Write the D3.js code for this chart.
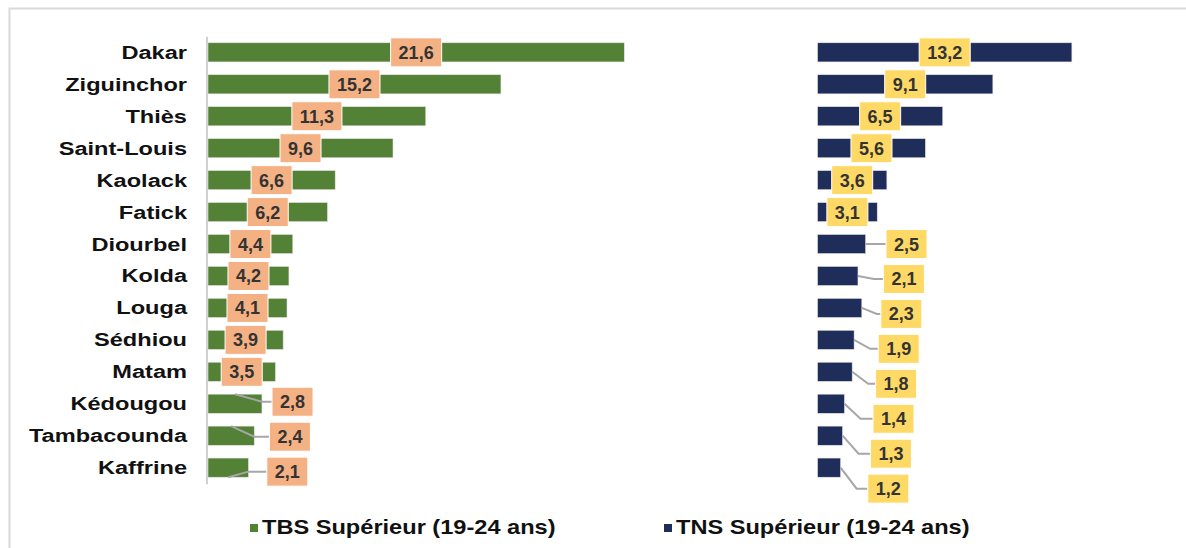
<!DOCTYPE html>
<html>
<head>
<meta charset="utf-8">
<script src="https://cdn.jsdelivr.net/npm/d3@7"></script>
<style>
  body { margin: 0; background: #fff; }
  svg { display: block; font-family: "Liberation Sans", Arial, sans-serif; }
</style>
</head>
<body>
<div class="wrapper"><svg width="1186" height="548"></svg></div>
<script>
var regions = ["Dakar", "Ziguinchor", "Thiès", "Saint-Louis", "Kaolack", "Fatick", "Diourbel",
  "Kolda", "Louga", "Sédhiou", "Matam", "Kédougou", "Tambacounda", "Kaffrine"];
var tbs = [21.6, 15.2, 11.3, 9.6, 6.6, 6.2, 4.4, 4.2, 4.1, 3.9, 3.5, 2.8, 2.4, 2.1];
var tns = [13.2, 9.1, 6.5, 5.6, 3.6, 3.1, 2.5, 2.1, 2.3, 1.9, 1.8, 1.4, 1.3, 1.2];
var seriesNames = ["TBS Supérieur (19-24 ans)", "TNS Supérieur (19-24 ans)"];

var svg = d3.select('.wrapper').select('svg');
var fr = d3.formatLocale({decimal: ",", thousands: " ", grouping: [3], currency: ["", ""]});
var fmt = fr.format(".1f");

/* frame */
svg.append('path').attr('d', 'M9.5,548V8.5H1186')
  .attr('fill', 'none').attr('stroke', '#d9d9d9').attr('stroke-width', 2);

var y = d3.scaleBand().domain(regions).range([30, 490]).paddingInner(0.4).paddingOuter(0.4);
var xL = d3.scaleLinear().domain([0, 22]).range([208, 632]);
var xR = d3.scaleLinear().domain([0, 18]).range([817.5, 1164.4]);

/* category labels */
svg.append('g').selectAll('text').data(regions).enter().append('text')
  .attr('transform', function(d) { return 'translate(187,' + (y(d) + y.bandwidth() / 2 + 6.5) + ') scale(1.31,1)'; })
  .attr('text-anchor', 'end')
  .attr('font-size', 18).attr('font-weight', 'bold').attr('fill', '#111')
  .text(function(d) { return d; });

/* left axis line */
svg.append('line')
  .attr('x1', xL(0) - 1).attr('x2', xL(0) - 1)
  .attr('y1', y(regions[0]) - 6).attr('y2', y(regions[regions.length - 1]) + y.bandwidth() + 7)
  .attr('stroke', '#d0d0d0').attr('stroke-width', 2);

drawPanel(tbs, xL, {bar: '#538135', box: '#F4B183', side: 'left', base: 64, dy0: -2});
drawPanel(tns, xR, {bar: '#1F2D5A', box: '#FFD966', side: 'right', base: 68.5, dy0: 0});

function drawPanel(values, x, o)
{
  var g = svg.append('g');
  var bh = y.bandwidth();

  g.selectAll('rect').data(values).enter().append('rect')
    .attr('x', x(0))
    .attr('y', function(v, i) { return y(regions[i]); })
    .attr('width', function(v) { return x(v) - x(0); })
    .attr('height', bh)
    .attr('fill', o.bar)
    .attr('stroke', '#e4e4e4').attr('stroke-width', 0.6);

  var k = 0;
  values.forEach(function(v, i) {
    var cy = y(regions[i]) + bh / 2;
    var lab = g.append('g');
    var t = lab.append('text')
      .attr('text-anchor', 'middle')
      .attr('font-size', 18).attr('font-weight', 'bold').attr('fill', '#333')
      .text(fmt(v));
    var w = t.node().getComputedTextLength() + 16;
    var h = 29;
    var cx, by;
    if (v >= 3) {
      cx = (x(0) + x(v)) / 2;
      by = cy;
    } else {
      var left = x(0) + o.base - 2.6 * k;
      by = cy + o.dy0 + 3 * k;
      cx = left + w / 2;
      var pts;
      if (o.side == 'left') {
        var sy = (by > cy + 2) ? cy + bh / 2 : cy - bh / 2;
        pts = [[(x(0) + x(v)) / 2, sy], [x(v), by], [left, by]];
      } else {
        pts = [[x(v), cy], [Math.min(x(v) + 16, left - 4), by], [left, by]];
      }
      g.append('path').attr('d', d3.line()(pts))
        .attr('fill', 'none').attr('stroke', '#a6a6a6').attr('stroke-width', 2);
      k++;
    }
    lab.insert('rect', 'text')
      .attr('x', cx - w / 2).attr('y', by - h / 2)
      .attr('width', w).attr('height', h)
      .attr('fill', o.box).attr('stroke', '#fff').attr('stroke-width', 1);
    t.attr('x', cx).attr('y', by + 6.5);
    lab.raise();
  });
}

/* legend */
var legendColors = ['#538135', '#1F2D5A'];
var legendX = [250, 664];
var lg = svg.append('g').selectAll('g').data(seriesNames).enter().append('g')
  .attr('transform', function(d, i) { return 'translate(' + legendX[i] + ',0)'; });
lg.append('rect').attr('x', 0).attr('y', 524).attr('width', 8).attr('height', 8)
  .attr('fill', function(d, i) { return legendColors[i]; });
lg.append('text')
  .attr('transform', 'translate(12,534) scale(1.18,1)')
  .attr('font-size', 20).attr('font-weight', 'bold').attr('fill', '#111')
  .text(function(d) { return d; });
</script>
</body>
</html>
